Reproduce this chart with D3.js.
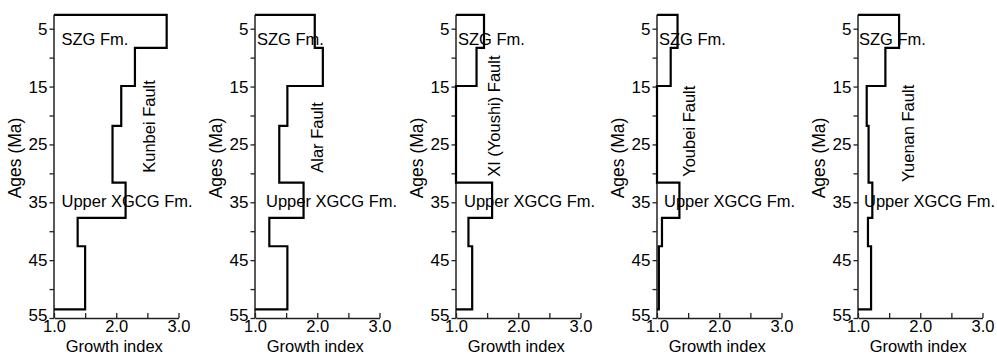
<!DOCTYPE html>
<html>
<head>
<meta charset="utf-8">
<script src="https://cdn.jsdelivr.net/npm/d3@7"></script>
<style>
  body { margin: 0; background: #fff; }
  svg { display: block; font-family: "Liberation Sans", Arial, sans-serif; }
</style>
</head>
<body>
<script>
'use strict';

// age boundaries (Ma) of the growth-index intervals
const ageBreaks = [2.6, 8.3, 14.9, 21.8, 31.6, 37.7, 42.6, 53.5];

// fault names, one panel each
const faults = ["Kunbei Fault", "Alar Fault", "XI (Youshi) Fault", "Youbei Fault", "Yuenan Fault"];

// growth index for each interval (top to bottom)
const kunbei = [2.81, 2.30, 2.08, 1.94, 2.15, 1.38, 1.50];
const alar   = [1.96, 2.09, 1.52, 1.39, 1.78, 1.23, 1.52];
const youshi = [1.45, 1.33, 1.00, 1.00, 1.58, 1.20, 1.26];
const youbei = [1.33, 1.22, 1.00, 1.00, 1.36, 1.08, 1.03];
const yuenan = [1.66, 1.44, 1.14, 1.17, 1.23, 1.16, 1.21];

const seriesList = [kunbei, alar, youshi, youbei, yuenan];

// axis ticks
const ageTicks = [5, 10, 15, 20, 25, 30, 35, 40, 45, 50, 55];
const ageTickLabels = [5, 15, 25, 35, 45, 55];
const giTicks = [1.0, 1.5, 2.0, 2.5, 3.0];
const giTickLabels = [1.0, 2.0, 3.0];

// formation labels
const formations = ["SZG Fm.", "Upper XGCG Fm."];

(function () {
    const W = 997, H = 356;
    const panelStep = 201;
    const x0 = 54;          // left edge of first panel axis
    const plotW = 124.5;    // width 1.0 -> 3.0

    // layout of labels (in data units of each panel)
    const faultLabelGI  = [2.53, 2.00, 1.62, 1.51, 1.80];
    const faultLabelAge = [29.9, 29.9, 30.6, 30.6, 31.5];
    const szgDx   = [7.5, 2, 2, 2, 1];
    const xgcgDx  = [7.5, 11, 8, 7, 6];

    const svg = d3.select('body').append('svg')
        .attr('width', W)
        .attr('height', H);

    const y = d3.scaleLinear()
        .domain([5, 55])
        .range([28.7, 318]);

    seriesList.forEach(function (vals, i) {
        const left = x0 + i * panelStep;
        const x = d3.scaleLinear()
            .domain([1.0, 3.0])
            .range([left, left + plotW]);

        const g = svg.append('g');

        // y axis line from top of record down to 55 Ma
        g.append('line')
            .attr('x1', x(1.0)).attr('x2', x(1.0))
            .attr('y1', y(ageBreaks[0])).attr('y2', y(55))
            .attr('stroke', '#222')
            .attr('stroke-width', 1.5);

        // y ticks
        const yAxis = d3.axisLeft(y)
            .tickValues(ageTicks)
            .tickSize(4.5)
            .tickPadding(2)
            .tickFormat(d => ageTickLabels.includes(d) ? d : '');
        const ya = g.append('g')
            .attr('transform', `translate(${x(1.0)},0)`)
            .call(yAxis);
        ya.select('.domain').remove();
        ya.selectAll('line').attr('stroke', '#222').attr('stroke-width', 1.3);
        ya.selectAll('text')
            .attr('fill', '#000')
            .attr('dy', d => d === 55 ? '0.15em' : '0.32em')
            .style('font-size', '17px')
            .style('font-family', '"Liberation Sans", Arial, sans-serif');

        // x axis, ticks pointing inward
        const xAxis = d3.axisBottom(x)
            .tickValues(giTicks)
            .tickSizeInner(-5)
            .tickSizeOuter(0)
            .tickPadding(2)
            .tickFormat(d => giTickLabels.includes(d) ? d3.format('.1f')(d) : '');
        const xa = g.append('g')
            .attr('transform', `translate(0,${y(55)})`)
            .call(xAxis);
        xa.select('.domain').attr('stroke', '#222').attr('stroke-width', 1.5);
        xa.selectAll('line').attr('stroke', '#222').attr('stroke-width', 1.3);
        xa.selectAll('text')
            .attr('fill', '#000')
            .style('font-size', '16.5px')
            .style('font-family', '"Liberation Sans", Arial, sans-serif');

        // step line of growth index
        const pts = [{ v: 1.0, a: ageBreaks[0] }];
        vals.forEach(function (v, k) {
            pts.push({ v: v, a: ageBreaks[k] });
            pts.push({ v: v, a: ageBreaks[k + 1] });
        });
        pts.push({ v: 1.0, a: ageBreaks[ageBreaks.length - 1] });

        const line = d3.line()
            .x(d => x(d.v))
            .y(d => y(d.a));

        g.append('path')
            .datum(pts)
            .attr('d', line)
            .attr('fill', 'none')
            .attr('stroke', '#000')
            .attr('stroke-width', 2.2)
            .attr('stroke-linejoin', 'miter');

        // formation labels
        g.append('text')
            .attr('x', x(1.0) + szgDx[i])
            .attr('y', y(7.8))
            .style('font-size', '16.5px')
            .attr('fill', '#000')
            .text(formations[0]);

        g.append('text')
            .attr('x', x(1.0) + xgcgDx[i])
            .attr('y', y(35.9))
            .style('font-size', '16.5px')
            .attr('fill', '#000')
            .text(formations[1]);

        // fault name, vertical
        g.append('text')
            .attr('transform', `translate(${x(faultLabelGI[i])},${y(faultLabelAge[i])})rotate(-90)`)
            .attr('dy', '0.35em')
            .style('font-size', '16.5px')
            .attr('fill', '#000')
            .text(faults[i]);

        // axis titles
        g.append('text')
            .attr('transform', `translate(${x(1.0) - 39},${158})rotate(-90)`)
            .attr('text-anchor', 'middle')
            .attr('dy', '0.35em')
            .style('font-size', '17.5px')
            .attr('fill', '#000')
            .text('Ages (Ma)');

        g.append('text')
            .attr('x', x(2.0) - 2)
            .attr('y', 352)
            .attr('text-anchor', 'middle')
            .style('font-size', '16.5px')
            .attr('fill', '#000')
            .text('Growth index');
    });
})();
</script>
</body>
</html>
